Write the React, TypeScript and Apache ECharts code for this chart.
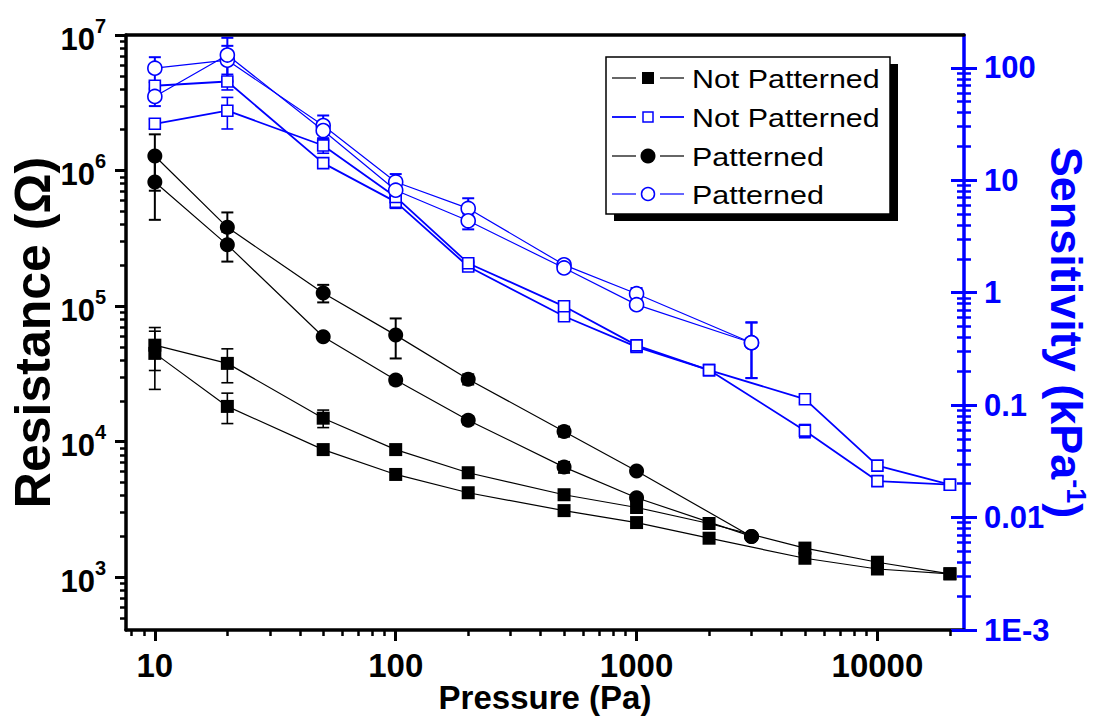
import React, { useEffect, useRef } from 'react';
import * as echarts from 'echarts';

// ---------------- data ----------------
const pressureAll = [10, 20, 50, 100, 200, 500, 1000, 2000, 5000, 10000, 20000];
const pressurePat = [10, 20, 50, 100, 200, 500, 1000, 3000];

// Not Patterned – resistance (Ω), two samples
const npResA = [51500, 37800, 14900, 8740, 5900, 4060, 3270, 2490, 1640, 1290, 1060];
const npResAErr = [18000, 10600, 2200, 0, 0, 0, 0, 0, 0, 0, 0];
const npResB = [44800, 18200, 8740, 5730, 4200, 3100, 2530, 1940, 1380, 1150, 1060];
const npResBErr = [20500, 4600, 0, 0, 0, 0, 0, 0, 0, 0, 0];

// Patterned – resistance (Ω)
const pResA = [1280000, 381000, 125000, 61100, 28900, 11900, 6070, 2000];
const pResAErr = [570000, 110000, 18500, 20000, 2500, 1000, 300, 0];
const pResB = [824000, 283000, 59400, 28500, 14400, 6490, 3860, 2000];
const pResBErr = [391000, 70000, 2500, 2000, 1000, 600, 200, 0];

// Not Patterned – sensitivity (kPa^-1)
const npSenA = [69.3, 75.6, 14.2, 6.43, 1.71, 0.617, 0.33, 0.205, 0.113, 0.029, 0.0196];
const npSenAErr = [5, 12, 1, 0.8, 0.15, 0.05, 0.03, 0.015, 0.008, 0.002, 0];
const npSenB = [31.8, 41.6, 20.4, 7.11, 1.83, 0.757, 0.34, 0.205, 0.0593, 0.0211, 0.0196];
const npSenBErr = [3, 13, 3, 0.8, 0.15, 0.07, 0.03, 0.015, 0.008, 0.002, 0];

// Patterned – sensitivity (kPa^-1)
const pSenA = [99.4, 117, 30.7, 9.66, 5.62, 1.77, 0.98, 0.359];
const pSenAErr = [25, 40, 7, 1.7, 1.3, 0.15, 0.12, 0.185];
const pSenB = [55.7, 130, 27.7, 8.16, 4.36, 1.66, 0.783, 0.359];
const pSenBErr = [10, 55, 5, 1, 0.7, 0.12, 0.06, 0.185];

// axes
const X_MIN = 7.59;
const X_MAX = 22880;
const YL_MIN = 408;
const YL_MAX = 1e7;
const YR_MIN = 1e-3;
const YR_MAX = 196;

const xMajorTicks = [10, 100, 1000, 10000];
const xTickLabels = ['10', '100', '1000', '10000'];
const yLeftMajorTicks = [1e3, 1e4, 1e5, 1e6, 1e7];
const yLeftExponents = ['3', '4', '5', '6', '7'];
const yRightMajorTicks = [0.001, 0.01, 0.1, 1, 10, 100];
const yRightTickLabels = ['1E-3', '0.01', '0.1', '1', '10', '100'];

const legendLabels = ['Not Patterned', 'Not Patterned', 'Patterned', 'Patterned'];

// ---------------- helpers ----------------
const BLUE = '#0000ff';
const FONT = 'Liberation Sans, Arial, sans-serif';
const lg = (v: number) => Math.log10(v);

function minorTicks(lo: number, hi: number): number[] {
  const out: number[] = [];
  for (let e = -4; e <= 8; e++) {
    for (let k = 2; k <= 9; k++) {
      const v = k * Math.pow(10, e);
      if (v >= lo && v <= hi) out.push(v);
    }
  }
  return out;
}

function nearestIndex(arr: number[], v: number) {
  let best = 0;
  for (let i = 0; i < arr.length; i++) if (Math.abs(arr[i] - v) < Math.abs(arr[best] - v)) best = i;
  return best;
}

function lineSeries(name: string, xs: number[], ys: number[], yAxisIndex: number, symbol: string, size: number, lineColor: string, lineWidth: number, itemStyle: any) {
  return {
    type: 'line',
    name,
    xAxisIndex: 0,
    yAxisIndex,
    data: xs.map((x, i) => [x, ys[i]]),
    symbol,
    symbolSize: size,
    showSymbol: true,
    showAllSymbol: true,
    lineStyle: { color: lineColor, width: lineWidth },
    itemStyle,
    emphasis: { disabled: true },
    z: 3,
  };
}

function errSeries(xs: number[], ys: number[], errs: number[], yAxisIndex: number, color: string, width: number) {
  const data: number[][] = [];
  xs.forEach((x, i) => {
    if (errs[i] > 0) data.push([x, ys[i] - errs[i], ys[i] + errs[i]]);
  });
  return {
    type: 'custom',
    xAxisIndex: 0,
    yAxisIndex,
    z: 2,
    silent: true,
    clip: true,
    encode: { x: 0, y: [1, 2] },
    data,
    renderItem: (params: any, api: any) => {
      const x = api.value(0);
      const lo = api.value(1);
      const hi = api.value(2);
      const top = api.coord([x, hi]);
      const bot = api.coord([x, lo]);
      const w = 6;
      const style = { stroke: color, lineWidth: width };
      return {
        type: 'group',
        children: [
          { type: 'line', shape: { x1: top[0], y1: top[1], x2: bot[0], y2: bot[1] }, style },
          { type: 'line', shape: { x1: top[0] - w, y1: top[1], x2: top[0] + w, y2: top[1] }, style },
          { type: 'line', shape: { x1: bot[0] - w, y1: bot[1], x2: bot[0] + w, y2: bot[1] }, style },
        ],
      };
    },
  };
}

function tickAxis(position: string, lo: number, hi: number, vals: number[], length: number, inside: boolean, color: string, width: number, label: any) {
  return {
    type: 'value',
    gridIndex: 0,
    position,
    min: lg(lo),
    max: lg(hi),
    axisLine: { show: false, onZero: false },
    splitLine: { show: false },
    axisTick: { show: true, inside, length, customValues: vals.map(lg), lineStyle: { color, width } },
    axisLabel: label ? { ...label, customValues: vals.map(lg) } : { show: false },
  };
}

export default function App() {
  const ref = useRef<HTMLDivElement>(null);
  useEffect(() => {
    if (!ref.current) return;
    const chart = echarts.init(ref.current, undefined, { renderer: 'svg' });

    const blackSq = { color: '#000' };
    const blackCi = { color: '#000' };
    const openSq = { color: '#fff', borderColor: BLUE, borderWidth: 1.6 };
    const openCi = { color: '#fff', borderColor: BLUE, borderWidth: 1.6 };

    const legendRows = [78, 117, 156, 194];
    const legendGraphics: any[] = [
      { type: 'rect', shape: { x: 614, y: 64, width: 284, height: 157 }, style: { fill: '#000' }, z: 10 },
      { type: 'rect', shape: { x: 606, y: 57, width: 284, height: 157 }, style: { fill: '#fff', stroke: '#000', lineWidth: 1.5 }, z: 11 },
    ];
    const legendLineColors = ['#000', BLUE, '#000', BLUE];
    legendRows.forEach((y, i) => {
      const c = legendLineColors[i];
      const lw = i === 1 ? 1.8 : 1.2;
      legendGraphics.push({ type: 'line', shape: { x1: 612, y1: y, x2: 636, y2: y }, style: { stroke: c, lineWidth: lw }, z: 12 });
      legendGraphics.push({ type: 'line', shape: { x1: 660, y1: y, x2: 684, y2: y }, style: { stroke: c, lineWidth: lw }, z: 12 });
      if (i === 0) legendGraphics.push({ type: 'rect', shape: { x: 642, y: y - 6, width: 12, height: 12 }, style: { fill: '#000' }, z: 12 });
      if (i === 1) legendGraphics.push({ type: 'rect', shape: { x: 643, y: y - 5, width: 10, height: 10 }, style: { fill: '#fff', stroke: BLUE, lineWidth: 1.5 }, z: 12 });
      if (i === 2) legendGraphics.push({ type: 'circle', shape: { cx: 648, cy: y, r: 7.5 }, style: { fill: '#000' }, z: 12 });
      if (i === 3) legendGraphics.push({ type: 'circle', shape: { cx: 648, cy: y, r: 6.5 }, style: { fill: '#fff', stroke: BLUE, lineWidth: 1.5 }, z: 12 });
      legendGraphics.push({
        type: 'text', x: 692, y: y + 1, scaleX: 1.17, z: 12,
        style: { text: legendLabels[i], fill: '#000', font: `26px ${FONT}`, textVerticalAlign: 'middle', textAlign: 'left' },
      });
    });

    const option: any = {
      animation: false,
      backgroundColor: '#fff',
      grid: { left: 123, top: 35, width: 842, height: 598, containLabel: false },
      xAxis: [
        {
          type: 'log', position: 'bottom', min: X_MIN, max: X_MAX, logBase: 10,
          axisLine: { show: true, onZero: false, lineStyle: { color: '#000', width: 3.5 } },
          axisTick: { show: false }, axisLabel: { show: false }, splitLine: { show: false },
          name: 'Pressure (Pa)', nameLocation: 'middle', nameGap: 51,
          nameTextStyle: { fontFamily: FONT, fontWeight: 'bold', fontSize: 33, color: '#000' },
        },
        {
          type: 'log', position: 'top', min: X_MIN, max: X_MAX, logBase: 10,
          axisLine: { show: true, onZero: false, lineStyle: { color: '#000', width: 3.5 } },
          axisTick: { show: false }, axisLabel: { show: false }, splitLine: { show: false },
        },
        tickAxis('bottom', X_MIN, X_MAX, xMajorTicks, 11, false, '#000', 3, {
          show: true, margin: 19, color: '#000', fontFamily: FONT, fontWeight: 'bold', fontSize: 33,
          formatter: (v: number) => xTickLabels[nearestIndex(xMajorTicks.map(lg), v)],
        }),
        tickAxis('bottom', X_MIN, X_MAX, minorTicks(X_MIN, X_MAX), 6, false, '#000', 2.5, null),
      ],
      yAxis: [
        {
          type: 'log', position: 'left', min: YL_MIN, max: YL_MAX, logBase: 10,
          axisLine: { show: true, onZero: false, lineStyle: { color: '#000', width: 3.5 } },
          axisTick: { show: false }, axisLabel: { show: false }, splitLine: { show: false },
          name: 'Resistance (Ω)', nameLocation: 'middle', nameGap: 68, nameRotate: 90,
          nameTextStyle: { fontFamily: FONT, fontWeight: 'bold', fontSize: 50, color: '#000' },
        },
        {
          type: 'log', position: 'right', min: YR_MIN, max: YR_MAX, logBase: 10,
          axisLine: { show: true, onZero: false, lineStyle: { color: BLUE, width: 3.5 } },
          axisTick: { show: false }, axisLabel: { show: false }, splitLine: { show: false },
          name: 'Sensitivity (kPa{s|-1})', nameLocation: 'middle', nameGap: 80, nameRotate: -90,
          nameTextStyle: {
            fontFamily: FONT, fontWeight: 'bold', fontSize: 45, color: BLUE,
            rich: { s: { fontFamily: FONT, fontWeight: 'bold', fontSize: 27, color: BLUE, verticalAlign: 'top' } },
          },
        },
        tickAxis('left', YL_MIN, YL_MAX, yLeftMajorTicks, 11, false, '#000', 3, {
          show: true, margin: 20, color: '#000',
          formatter: (v: number) => `{b|10}{s|${yLeftExponents[nearestIndex(yLeftMajorTicks.map(lg), v)]}}`,
          rich: {
            b: { fontFamily: FONT, fontWeight: 'bold', fontSize: 31, color: '#000', padding: [8, 0, 0, 0] },
            s: { fontFamily: FONT, fontWeight: 'bold', fontSize: 20, color: '#000', verticalAlign: 'top' },
          },
        }),
        tickAxis('left', YL_MIN, YL_MAX, minorTicks(YL_MIN, YL_MAX), 6, false, '#000', 2.5, null),
        tickAxis('right', YR_MIN, YR_MAX, yRightMajorTicks, 13, false, BLUE, 3, {
          show: true, margin: 20, color: BLUE, fontFamily: FONT, fontWeight: 'bold', fontSize: 31,
          formatter: (v: number) => yRightTickLabels[nearestIndex(yRightMajorTicks.map(lg), v)],
        }),
        tickAxis('right', YR_MIN, YR_MAX, yRightMajorTicks, 13, true, BLUE, 3, null),
        tickAxis('right', YR_MIN, YR_MAX, minorTicks(YR_MIN, YR_MAX), 7, false, BLUE, 2.5, null),
        tickAxis('right', YR_MIN, YR_MAX, minorTicks(YR_MIN, YR_MAX), 7, true, BLUE, 2.5, null),
      ],
      graphic: legendGraphics,
      series: [
        errSeries(pressureAll, npResA, npResAErr, 0, '#000', 1.6),
        errSeries(pressureAll, npResB, npResBErr, 0, '#000', 1.6),
        errSeries(pressurePat, pResA, pResAErr, 0, '#000', 2),
        errSeries(pressurePat, pResB, pResBErr, 0, '#000', 2),
        errSeries(pressureAll, npSenA, npSenAErr, 1, BLUE, 1.6),
        errSeries(pressureAll, npSenB, npSenBErr, 1, BLUE, 1.6),
        errSeries(pressurePat, pSenA, pSenAErr, 1, BLUE, 2),
        errSeries(pressurePat, pSenB, pSenBErr, 1, BLUE, 2),
        lineSeries('Not Patterned', pressureAll, npResA, 0, 'rect', 13, '#000', 1.2, blackSq),
        lineSeries('Not Patterned', pressureAll, npResB, 0, 'rect', 13, '#000', 1.2, blackSq),
        lineSeries('Patterned', pressurePat, pResA, 0, 'circle', 15, '#000', 1.2, blackCi),
        lineSeries('Patterned', pressurePat, pResB, 0, 'circle', 15, '#000', 1.2, blackCi),
        lineSeries('Not Patterned (sensitivity)', pressureAll, npSenA, 1, 'rect', 11, BLUE, 1.8, openSq),
        lineSeries('Not Patterned (sensitivity)', pressureAll, npSenB, 1, 'rect', 11, BLUE, 1.8, openSq),
        lineSeries('Patterned (sensitivity)', pressurePat, pSenA, 1, 'circle', 14, BLUE, 1.2, openCi),
        lineSeries('Patterned (sensitivity)', pressurePat, pSenB, 1, 'circle', 14, BLUE, 1.2, openCi),
      ],
    };
    chart.setOption(option);
    return () => chart.dispose();
  }, []);
  return <div ref={ref} style={{ position: 'fixed', left: 0, top: 0, width: 1097, height: 719 }} />;
}
